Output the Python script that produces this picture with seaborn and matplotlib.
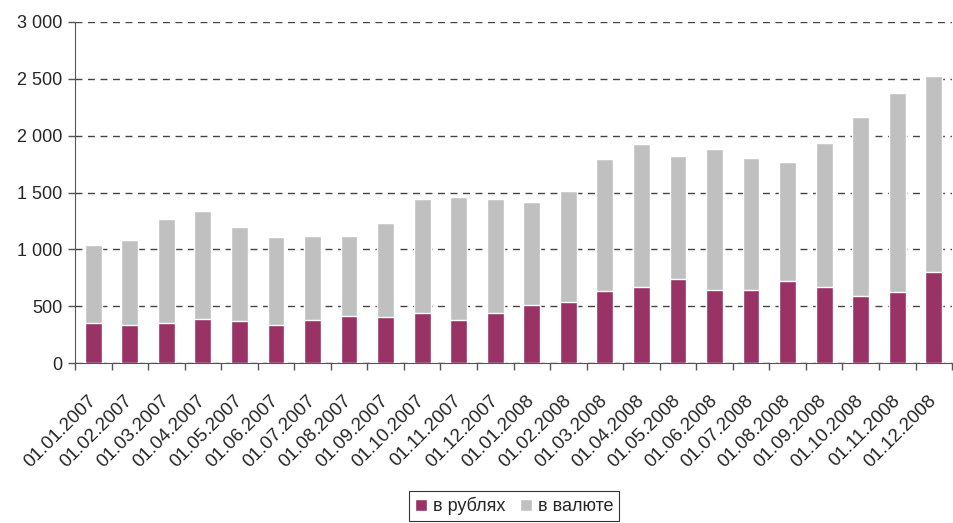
import numpy as np
import pandas as pd
import matplotlib
matplotlib.use("Agg")
import matplotlib.pyplot as plt
import seaborn as sns
from matplotlib.patches import Patch
from matplotlib.ticker import FuncFormatter

# Data
dates = ["01.01.2007", "01.02.2007", "01.03.2007", "01.04.2007", "01.05.2007", "01.06.2007",
         "01.07.2007", "01.08.2007", "01.09.2007", "01.10.2007", "01.11.2007", "01.12.2007",
         "01.01.2008", "01.02.2008", "01.03.2008", "01.04.2008", "01.05.2008", "01.06.2008",
         "01.07.2008", "01.08.2008", "01.09.2008", "01.10.2008", "01.11.2008", "01.12.2008"]
rub = [356, 336, 356, 389, 371, 336, 380, 415, 406, 441, 380, 441,
       512, 538, 635, 670, 740, 644, 644, 723, 670, 591, 626, 802]
total = [1039, 1083, 1267, 1337, 1197, 1109, 1118, 1118, 1232, 1443, 1460, 1443,
         1416, 1513, 1794, 1925, 1820, 1882, 1803, 1768, 1934, 2163, 2373, 2523]

df = pd.DataFrame({"date": dates, "rub": rub, "total": total})

sns.set_style("white")
plt.rcParams["font.family"] = ["Liberation Sans", "DejaVu Sans"]

c_rub = "#993366"
c_cur = "#c0c0c0"

fig = plt.figure(figsize=(9.54, 5.23), dpi=100)
ax = fig.add_axes([0.0786, 0.3053, 0.9194, 0.6532])

sns.barplot(data=df, x="date", y="total", color=c_cur, saturation=1, width=0.46, ax=ax, zorder=3)
sns.barplot(data=df, x="date", y="rub", color=c_rub, saturation=1, width=0.46, ax=ax, zorder=3)

ax.set_ylim(0, 3000)
ax.set_xlim(-0.5, len(dates) - 0.5)
ax.set_yticks(np.arange(0, 3001, 500))
ax.yaxis.set_major_formatter(FuncFormatter(lambda v, p: f"{int(v):,}".replace(",", " ")))
ax.grid(axis="y", color="#444444", linestyle=(0, (5, 4)), linewidth=1, zorder=0)
ax.set_axisbelow(True)

ax.set_xlabel("")
ax.set_ylabel("")
ax.set_xticks(np.arange(len(dates)))
ax.set_xticklabels(dates, rotation=45, ha="right", va="center", rotation_mode="anchor", fontsize=13.5)
ax.tick_params(axis="x", which="major", length=0, pad=25, bottom=True)
ax.set_xticks(np.arange(len(dates) + 1) - 0.5, minor=True)
ax.tick_params(axis="x", which="minor", length=5, width=1, color="#555555", direction="out", bottom=True)
ax.tick_params(axis="y", length=5, width=1, color="#555555", direction="out", labelsize=13, left=True, pad=4)

for s in ["top", "right"]:
    ax.spines[s].set_visible(False)
ax.spines["left"].set_color("#555555")
ax.spines["bottom"].set_color("#555555")

handles = [Patch(facecolor=c_rub, label="в рублях"), Patch(facecolor=c_cur, label="в валюте")]
leg = fig.legend(handles=handles, loc="center", bbox_to_anchor=(514 / 954, 1 - 506 / 523), ncol=2,
                 frameon=True, fancybox=False, edgecolor="black", fontsize=13,
                 handlelength=0.7, handleheight=0.7, handletextpad=0.3, columnspacing=0.8,
                 borderpad=0.3)
leg.get_frame().set_linewidth(0.8)

fig.savefig("out.png", dpi=100)
